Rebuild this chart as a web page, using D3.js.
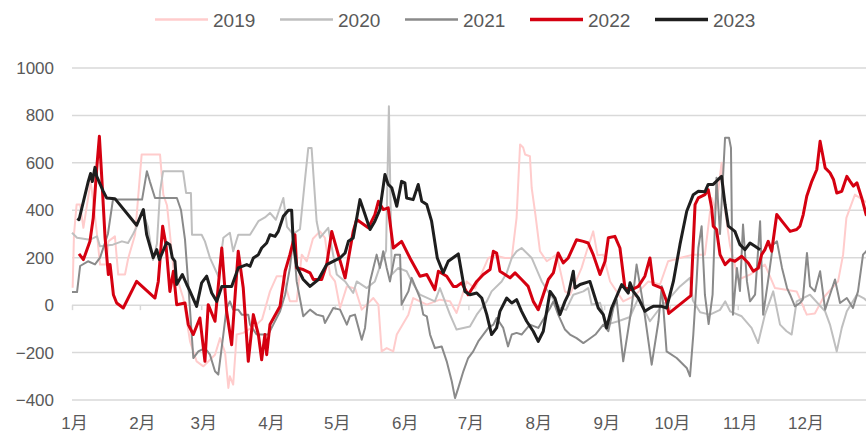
<!DOCTYPE html>
<html>
<head>
<meta charset="utf-8">
<script src="https://cdn.jsdelivr.net/npm/d3@7"></script>
<style>
  body { margin: 0; background: #fff; }
  svg { display: block; }
</style>
</head>
<body>
<script>
// month labels and the day-of-year each month starts on
var months = ["1月", "2月", "3月", "4月", "5月", "6月", "7月", "8月", "9月", "10月", "11月", "12月"];
var monthStart = [0, 31, 59, 90, 120, 151, 181, 212, 243, 273, 304, 334];
var yTicks = [-400, -200, 0, 200, 400, 600, 800, 1000];
var years = ["2019", "2020", "2021", "2022", "2023"];

// [day of year, value]
var s2019 = [[0.3,73],[0.9,297],[2.1,424],[3.7,424],[5.2,326],[6.8,420],[8.5,522],[9.7,438],[11.4,300],[12.8,171],[15.8,171],[16.6,269],[19.6,290],[21.1,129],[24.2,129],[25.7,199],[28.8,297],[31.8,635],[40.2,635],[41.7,466],[43.4,420],[46.3,157],[48.4,100],[50.8,30],[53.9,-153],[56.9,-237],[60,-258],[65.3,-209],[67.6,-139],[69.9,-200],[71.4,-349],[72.1,-300],[73.6,-335],[75.2,-124],[78.2,-117],[84.3,-82],[86.8,-60],[90.4,58],[93.5,122],[96.3,122],[99.5,16],[102.6,16],[104.9,213],[107.2,185],[110,280],[113.2,311],[115.5,284],[117.8,129],[120.1,100],[122.4,-12],[125.5,79],[129.3,70],[132.3,-19],[137.6,30],[139.9,2],[141.4,-195],[143.7,-181],[146.7,-195],[148.3,-124],[153.6,-40],[155.8,30],[162,2],[168,23],[172.6,16],[175.6,-33],[180.2,100],[184,70],[190.1,199],[193.2,210],[197.7,199],[200.8,199],[203,368],[204.6,677],[206,665],[206.9,635],[209.1,628],[209.9,495],[211.6,382],[213.7,227],[216.8,185],[221.3,213],[225.1,58],[227.4,44],[232.7,157],[235,227],[238,311],[240,210],[242.6,213],[245.7,100],[251.7,16],[257,40],[263.2,100],[268.5,87],[272.2,185],[277.6,199],[283.7,213],[289,213],[292.1,452],[294,400],[296.6,600],[298.2,400],[300.5,250],[304.3,108],[309.6,129],[316.4,171],[321,72],[330.9,58],[335.5,-40],[339.2,-35],[343,30],[349.8,100],[352.1,213],[353.6,368],[357.5,466],[362,438],[364,430]];

var s2020 = [[0,305],[2.3,284],[8.2,276],[11.4,290],[12.8,248],[18.7,255],[22.8,269],[25.6,262],[27.9,300],[29.7,333],[32,400],[34.7,330],[37,190],[38.8,260],[40.2,480],[41.6,565],[50.7,565],[52.1,473],[54.3,473],[54.8,297],[59.2,297],[60.7,269],[63,199],[66.8,122],[69.1,284],[72.1,305],[73.6,227],[75.9,297],[81.3,297],[85.1,354],[88.1,370],[90.4,389],[93.1,360],[96.5,452],[98.2,330],[100.9,300],[104.1,320],[106.4,530],[107.9,663],[109.4,663],[111.7,354],[113.2,284],[117,326],[120.9,129],[124.7,100],[128.4,51],[130,100],[134.6,72],[138.3,100],[141.4,185],[143.4,230],[144.7,839],[146,129],[149,157],[152.8,143],[155.1,100],[158.9,44],[165.7,16],[168,72],[172.6,-40],[175.6,-103],[178.7,-96],[181.7,-90],[184.8,-40],[189.4,16],[191.6,58],[196.2,100],[198.5,136],[200.8,199],[203,227],[205.3,241],[209.9,199],[214.5,100],[218.3,44],[222.8,-12],[225.6,-20],[228.9,44],[233.5,58],[235.7,72],[237.3,2],[241.1,10],[244.1,-82],[249.4,-68],[254.8,-50],[258.6,30],[263.9,-68],[268.5,-12],[271.5,16],[277.6,79],[282.2,115],[283.5,20],[286.8,-30],[291.3,-40],[295.9,-20],[298.3,16],[300.5,-26],[305.8,-47],[310.3,-96],[313.3,-160],[316.4,-40],[320.2,58],[323.3,-82],[326.3,-110],[328.6,-124],[330.9,16],[337,44],[343.9,-26],[346.1,-82],[349.2,-195],[351.5,-96],[353.8,-26],[358.4,44],[361.4,30],[364,10]];

var s2021 = [[0,55],[2.3,55],[3.7,165],[7.3,185],[10.5,172],[12.8,200],[14.6,250],[16.4,300],[18.7,445],[32,445],[34.2,565],[35.6,520],[37.9,452],[47.9,452],[49.8,400],[51.6,276],[53,100],[55.4,-223],[57.7,-195],[60.7,-181],[63,-209],[65.3,-279],[66.8,-293],[69.1,-124],[70.6,-12],[72.1,16],[73.6,-19],[75.9,-19],[77.5,-40],[80.5,-40],[81.3,-82],[84.3,-124],[89.6,-124],[91.9,-82],[95,-26],[97.3,44],[99.5,157],[101,284],[102.6,100],[105.6,-47],[108.7,-19],[111.7,-40],[114.7,-47],[115.5,-75],[119.3,-12],[122.4,-19],[125.5,-82],[126.9,-47],[129.2,-40],[132.3,-146],[133.8,-96],[136.1,100],[137.6,157],[139.1,213],[140.6,157],[142.1,227],[143.7,157],[145.2,100],[147.5,213],[149.8,213],[150.5,2],[152,30],[153.6,58],[155.1,115],[158.9,30],[160.4,-40],[162,-47],[163.5,-124],[165.7,-181],[168.8,-174],[171.1,-237],[173.4,-321],[174.9,-392],[176.4,-349],[178.7,-279],[180.9,-223],[183.2,-195],[185.5,-153],[187.8,-124],[190.1,-96],[192.4,-82],[193.9,-54],[196.9,-96],[199.1,-174],[200.8,-124],[203,-117],[205.3,-124],[209.1,-82],[212.9,-96],[218.3,-12],[219.8,16],[222,-40],[225.1,-103],[227.4,-124],[230.4,-139],[233.5,-160],[235.7,-146],[239,-124],[242.6,-82],[244.9,-110],[247.2,-12],[248.7,23],[251.7,-237],[255.5,-12],[257.8,171],[260.9,0],[264.7,-251],[267.8,-68],[269.3,80],[271.5,-195],[276.1,-223],[280.7,-265],[282.2,-300],[283.7,-124],[285.2,100],[286,241],[287.5,333],[289,44],[290.7,-80],[292.5,44],[294.3,537],[295.9,300],[298.2,706],[300,706],[300.9,663],[301.8,-40],[303.6,157],[305,60],[306.4,340],[308.2,100],[309.6,16],[311.9,44],[314.2,354],[315.6,-40],[317.8,100],[320.1,255],[321.9,269],[324.2,157],[326.5,72],[327.9,44],[330.1,-5],[332.4,9],[333.7,23],[335.6,220],[337,79],[339.2,58],[341.6,143],[343.9,-19],[346.1,44],[348.4,108],[350.7,9],[353.8,30],[356.6,-12],[358.9,58],[361.2,213],[362.6,227],[364,240]];

var s2022 = [[3.2,216],[5.2,192],[8.2,269],[9.7,368],[11.3,579],[12.5,712],[13.6,537],[15.1,284],[16.6,129],[17.4,171],[18.9,44],[20.4,9],[23.4,-12],[29.5,100],[37.9,30],[39.4,100],[41.4,333],[42.9,255],[44.7,58],[46.3,143],[47.8,2],[51.6,9],[53.1,-82],[55.4,-124],[58.4,-54],[60.7,-237],[62.2,2],[65.3,-68],[68.4,241],[70.6,-26],[72.9,-167],[75.9,227],[78.2,72],[80.5,-237],[82.8,-40],[85.1,-124],[86.6,-230],[88.1,-124],[88.9,-209],[90.4,-82],[95,-5],[97.3,143],[99.5,213],[101.8,297],[102.6,157],[105.6,150],[108.7,136],[110.2,108],[114,108],[116.3,171],[118.6,311],[121.6,213],[124.7,115],[128.4,311],[130,361],[135.3,326],[138.3,382],[139.9,438],[142.1,403],[144.4,410],[146.7,241],[150.5,269],[154.3,199],[158.9,122],[162,129],[165.7,65],[167.3,143],[171.1,122],[174.1,79],[175.6,79],[177.9,94],[180.9,44],[184.8,100],[187.8,129],[190.9,150],[192.4,227],[193.9,220],[195.4,143],[200,115],[202.3,136],[205.3,108],[208.3,79],[210.6,16],[212.9,-19],[215.2,44],[217.5,108],[219.8,136],[222,220],[224.3,178],[226.6,199],[230.4,276],[233.5,269],[235.7,262],[238,213],[241.1,129],[243.4,185],[244.9,284],[247.9,290],[250.2,241],[252.5,72],[255.6,65],[258.6,79],[261.6,122],[263.9,199],[265.4,87],[269.3,72],[271.5,16],[272.5,-35],[282.6,40],[284.5,424],[286,452],[289,466],[290.5,487],[292.1,410],[292.8,333],[294.3,319],[295.9,213],[298.2,171],[300.5,192],[302.7,185],[305.8,206],[308.8,178],[311.1,143],[313.4,157],[314.9,213],[316.4,234],[317.9,269],[319.5,227],[321.8,382],[324.8,347],[327.9,311],[330.9,319],[332.4,333],[333.9,382],[335.5,459],[337.8,522],[340.1,572],[341.6,691],[343.9,579],[346.1,558],[347.7,530],[349.2,473],[351.5,480],[353.8,543],[355.3,522],[356.8,502],[358.4,516],[360.6,452],[362.6,382],[364,370]];

var s2023 = [[2.4,365],[3.2,360],[7.3,517],[8.5,555],[9.3,521],[10.5,581],[11.3,543],[14.3,480],[15.8,452],[19.6,449],[29.5,337],[32.6,403],[34.1,297],[37.1,200],[38.7,234],[39.9,192],[43.2,264],[44.7,255],[45.8,200],[47,185],[47.8,87],[50.4,129],[52.4,87],[53.9,58],[56.9,-5],[59.2,94],[61.5,122],[63.8,51],[66.1,16],[68.4,79],[72.9,79],[75.9,157],[79.8,171],[81.3,164],[82.8,199],[85.1,213],[86.6,241],[88.9,262],[90.4,297],[92.7,290],[94.2,311],[96.5,375],[98.8,400],[100.3,400],[101,269],[102.6,164],[105.6,108],[108.7,79],[112.5,108],[116.3,171],[122.4,199],[124.7,220],[126.2,269],[128.4,283],[131.5,445],[133.8,382],[136.1,319],[138.3,354],[140.6,403],[142.9,551],[144.4,509],[146,495],[148.3,417],[150.5,522],[152,516],[152.8,452],[155.8,445],[158.1,509],[159.7,438],[162,424],[164.2,354],[166.8,199],[169.5,136],[171.8,185],[176.4,216],[179.4,58],[181.7,44],[184.8,51],[187.1,30],[189.4,-40],[191.6,-124],[193.9,-96],[195.4,-26],[198.5,30],[200.8,9],[203,23],[205.3,-26],[207.6,-68],[210.6,-110],[212.9,-153],[215.2,-110],[218.3,58],[220.5,30],[222.8,-40],[225.1,16],[226.6,44],[228.9,143],[229.7,72],[232,87],[236.5,100],[240.3,-12],[242.6,-40],[244.1,-96],[246.4,-12],[251,87],[254,51],[254.8,94],[256.3,58],[258.6,30],[261.6,-26],[263.9,-12],[265.4,-5],[269.3,-5],[271.5,-12],[274.6,100],[277.6,255],[280.7,396],[283.7,466],[286,480],[289,478],[290.5,509],[292.8,509],[295.1,530],[296.6,543],[298.2,424],[299.7,333],[302.7,311],[305,255],[307.3,234],[309.6,262],[311.9,248],[314.2,234]];

var seriesData = [s2019, s2020, s2021, s2022, s2023];
var colors = ["#ffcccc", "#bfbfbf", "#8a8a8a", "#d50010", "#1e1e1e"];
var widths = [2, 2, 2, 3, 3];

var chartW = 866, chartH = 439;
var plotLeft = 72, plotTop = 68, plotBottom = 400;

var svg = d3.select("body").append("svg")
  .attr("width", chartW)
  .attr("height", chartH);

var xScale = d3.scaleLinear().domain([0, 365]).range([plotLeft, plotLeft + 365 * 2.19]);
var yScale = d3.scaleLinear().domain([-400, 1000]).range([plotBottom, plotTop]);

// horizontal gridlines
svg.append("g").selectAll("line")
  .data(yTicks)
  .enter().append("line")
  .attr("x1", plotLeft).attr("x2", chartW)
  .attr("y1", d => yScale(d)).attr("y2", d => yScale(d))
  .attr("stroke", "#d9d9d9")
  .attr("stroke-width", 1.5);

// y axis labels
var yAxis = d3.axisLeft(yScale).tickValues(yTicks).tickSize(0).tickPadding(0).tickFormat(d3.format("d"));
var gy = svg.append("g").attr("transform", "translate(54,0)").call(yAxis);
gy.select(".domain").remove();
gy.selectAll("text")
  .attr("fill", "#595959")
  .style("font-family", "'Liberation Sans', Arial, sans-serif")
  .style("font-size", "17px");

// month tick marks sit on the zero line
var xTickAxis = d3.axisBottom(xScale).tickValues(monthStart).tickSize(5).tickFormat("");
var gx = svg.append("g").attr("transform", "translate(0," + yScale(0) + ")").call(xTickAxis);
gx.select(".domain").remove();
gx.selectAll("line").attr("stroke", "#d9d9d9").attr("stroke-width", 1.5);

// month labels sit at the bottom
var xLabelAxis = d3.axisBottom(xScale).tickValues(monthStart)
  .tickSize(0).tickPadding(0)
  .tickFormat((d, i) => months[i]);
var gl = svg.append("g").attr("transform", "translate(2,417)").call(xLabelAxis);
gl.select(".domain").remove();
gl.selectAll("text")
  .attr("fill", "#595959")
  .style("font-family", "'Liberation Sans', 'Noto Sans CJK SC', sans-serif")
  .style("font-size", "17px");

// series lines
var line = d3.line()
  .x(d => xScale(d[0]))
  .y(d => yScale(d[1]));

seriesData.forEach(function (data, i) {
  svg.append("path")
    .datum(data)
    .attr("fill", "none")
    .attr("stroke", colors[i])
    .attr("stroke-width", widths[i])
    .attr("stroke-linejoin", "round")
    .attr("d", line);
});

// legend
var legend = svg.append("g").selectAll("g")
  .data(years)
  .enter().append("g")
  .attr("transform", (d, i) => "translate(" + (155 + i * 125) + ",19.5)");

legend.append("line")
  .attr("x1", 0).attr("x2", 53)
  .attr("stroke", (d, i) => colors[i])
  .attr("stroke-width", (d, i) => widths[i] + 0.5);

legend.append("text")
  .attr("x", 58)
  .attr("y", 7)
  .attr("fill", "#595959")
  .style("font-family", "'Liberation Sans', Arial, sans-serif")
  .style("font-size", "19px")
  .text(d => d);
</script>
</body>
</html>
